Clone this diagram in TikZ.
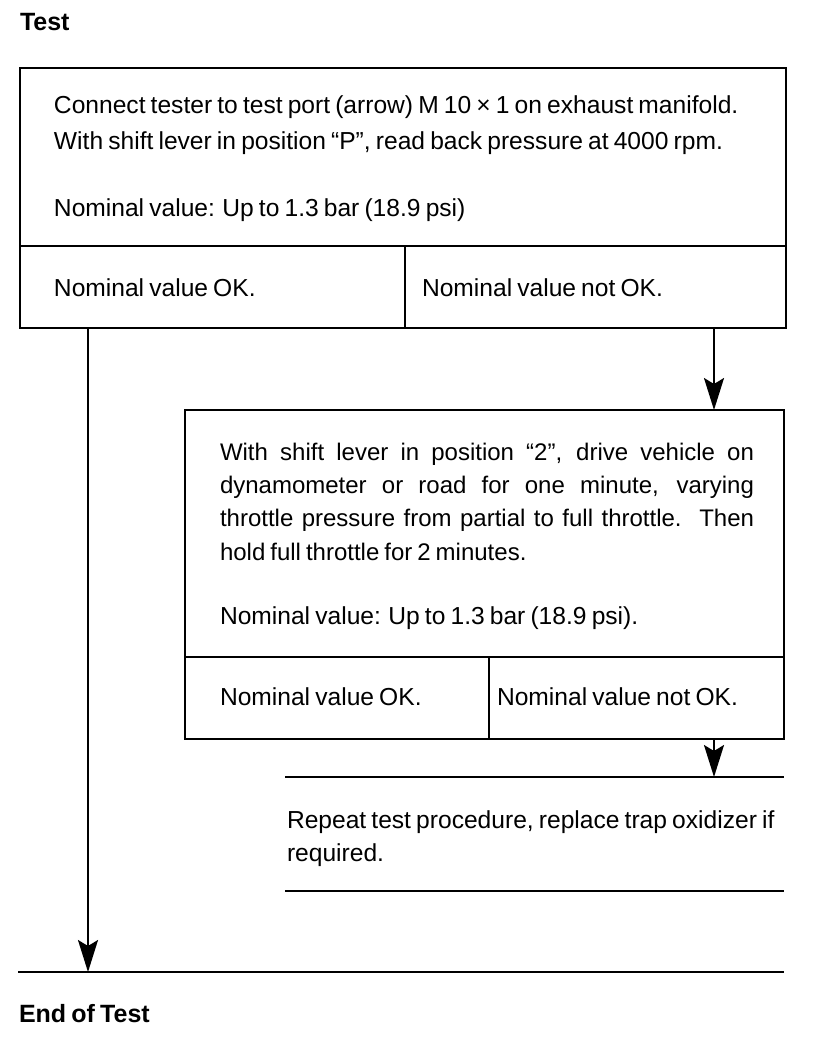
\documentclass[tikz,border=0pt]{standalone}
\usepackage{fontspec}
\setmainfont{Liberation Sans}
\newfontfamily\bodyfont[Ligatures=TeX, WordSpace=0.75]{Liberation Sans}
\usetikzlibrary{arrows.meta}

\begin{document}
\begin{tikzpicture}[x=0.5pt, y=-0.5pt, >={Stealth[length=16pt, width=10pt, inset=3pt]}, line width=1pt,
    body/.style={anchor=base west, inner sep=0pt, font=\bodyfont\fontsize{12.3}{18}\selectfont, align=left},
    heading/.style={anchor=base west, inner sep=0pt, font=\fontsize{12.5}{14}\selectfont\bfseries}]
    \useasboundingbox (0,0) rectangle (816,1044);

    % 标题
    \node[heading] (test) at (19,31) {Test};

    % 第一个框: 外框, 横分隔线, 竖分隔线
    \coordinate (BoxA-nw) at (20,68);
    \coordinate (BoxA-se) at (786,328);
    \draw (BoxA-nw) rectangle (BoxA-se);
    \draw (20,246) -- (786,246);
    \draw (405,246) -- (405,328);

    % 第一个框的文字 (多行节点的 base 在最后一行)
    \node[body] (connect) at (53,149) {Connect tester to test port (arrow) M 10 × 1 on exhaust manifold.\\
        With shift lever in position ``P'', read back pressure at 4000 rpm.};
    \node[body] (nomA) at (53,216) {Nominal value: Up to 1.3 bar (18.9 psi)};
    \node[body] (okA) at (53,296) {Nominal value OK.};
    \node[body] (notokA) at (421,296) {Nominal value not OK.};

    % 第二个框
    \coordinate (BoxB-nw) at (185,410);
    \coordinate (BoxB-se) at (784,739);
    \draw (BoxB-nw) rectangle (BoxB-se);
    \draw (185,657) -- (784,657);
    \draw (489,657) -- (489,739);

    % 第二个框的文字 (两端对齐)
    \node[body, font=\fontsize{12}{16.7}\selectfont, text width=267pt, align=justify] (drive) at (219,460)
        {With shift lever in position ``2'', drive vehicle on\linebreak
        dynamometer or road for one minute, varying\linebreak
        throttle pressure from partial to full throttle. Then\linebreak
        hold full throttle for 2 minutes.};
    \node[body] (nomB) at (219,624) {Nominal value: Up to 1.3 bar (18.9 psi).};
    \node[body] (okB) at (219,705) {Nominal value OK.};
    \node[body] (notokB) at (496,705) {Nominal value not OK.};

    % 第三段: 上下两条横线之间的文字
    \draw (285,777) -- (784,777);
    \draw (285,891) -- (784,891);
    \node[body, font=\bodyfont\fontsize{12.3}{16.5}\selectfont] (repeat) at (286,861)
        {Repeat test procedure, replace trap oxidizer if\\ required.};

    % 结束线和结束标题
    \draw (18,972) -- (784,972);
    \node[heading] (end) at (18,1022) {End of Test};

    % 箭头
    \coordinate (ArrA-s) at (714,328);
    \coordinate (ArrA-e) at (714,410);
    \coordinate (ArrB-s) at (714,739);
    \coordinate (ArrB-e) at (714,777);
    \coordinate (ArrC-s) at (88,328);
    \coordinate (ArrC-e) at (88,972);
    \draw[->] (ArrA-s) -- (ArrA-e);
    \draw[->] (ArrB-s) -- (ArrB-e);
    \draw[->] (ArrC-s) -- (ArrC-e);
\end{tikzpicture}
\end{document}
